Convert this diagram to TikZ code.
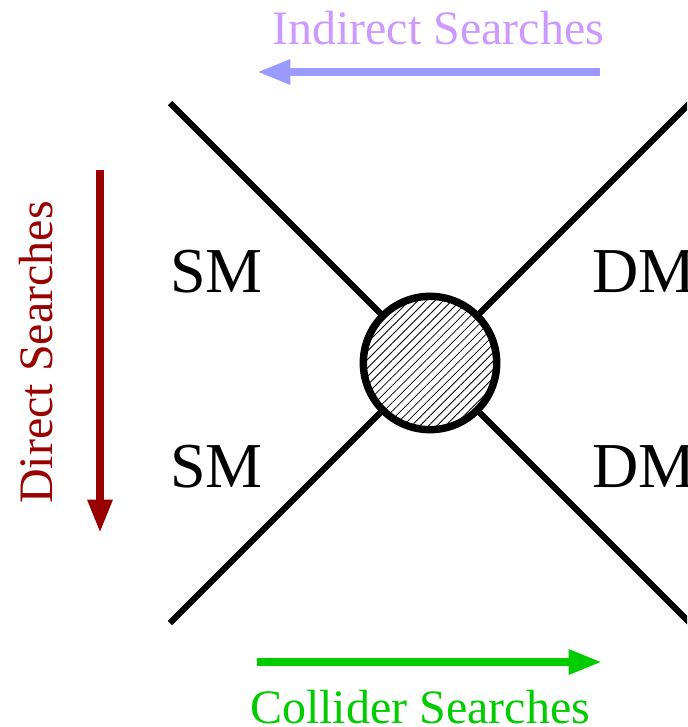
\documentclass[tikz,border=0pt]{standalone}
\usepackage{fontspec}
\setmainfont{Liberation Serif}
\usetikzlibrary{patterns.meta,arrows.meta}
\definecolor{indirectarrow}{RGB}{153,153,255}
\definecolor{indirecttext}{RGB}{204,153,255}
\definecolor{directcol}{RGB}{153,0,0}
\definecolor{collidercol}{RGB}{0,204,0}
\begin{document}
\begin{tikzpicture}[x=0.75pt,y=-0.75pt,
  leg/.style={line width=4.6pt},
  blob/.style={circle,draw,line width=5.6pt,inner sep=0pt,minimum size=100pt,
    pattern={Lines[angle=45,distance=4.5pt,line width=0.6pt]}},
  particle/.style={inner sep=0pt,font=\fontsize{48}{58}\selectfont},
  searchlabel/.style={inner sep=0pt,font=\fontsize{36}{43}\selectfont},
  searcharrow/.style={line width=5.8pt,-{Triangle[length=25pt,width=17.5pt]}}]
\useasboundingbox (0,0) rectangle (687,727);
\clip (0,0) rectangle (687,727);

% vertex with four legs
\node[blob] (v) at (430,363) {};
\coordinate (ul) at (170,103);
\coordinate (ur) at (690,103);
\coordinate (ll) at (170,623);
\coordinate (lr) at (690,623);
\draw[leg] (ul) -- (v);
\draw[leg] (ur) -- (v);
\draw[leg] (ll) -- (v);
\draw[leg] (lr) -- (v);

% particle labels
\node[particle,anchor=base west] (sm1) at (170,292) {SM};
\node[particle,anchor=base west] (sm2) at (170,487) {SM};
\node[particle,anchor=base west] (dm1) at (592,292) {DM};
\node[particle,anchor=base west] (dm2) at (592,487) {DM};

% search directions
\coordinate (ia) at (600,72);
\coordinate (ib) at (257,72);
\draw[searcharrow,indirectarrow] (ia) -- (ib);
\node[searchlabel,anchor=base west,text=indirecttext] (it) at (272,45) {Indirect Searches};

\coordinate (da) at (100,170);
\coordinate (db) at (100,533);
\draw[searcharrow,directcol] (da) -- (db);
\node[searchlabel,anchor=base west,rotate=90,text=directcol] (dt) at (52,504) {Direct Searches};

\coordinate (ca) at (257,662);
\coordinate (cb) at (602,662);
\draw[searcharrow,collidercol] (ca) -- (cb);
\node[searchlabel,anchor=base west,text=collidercol] (ct) at (250,723) {Collider Searches};
\end{tikzpicture}
\end{document}
